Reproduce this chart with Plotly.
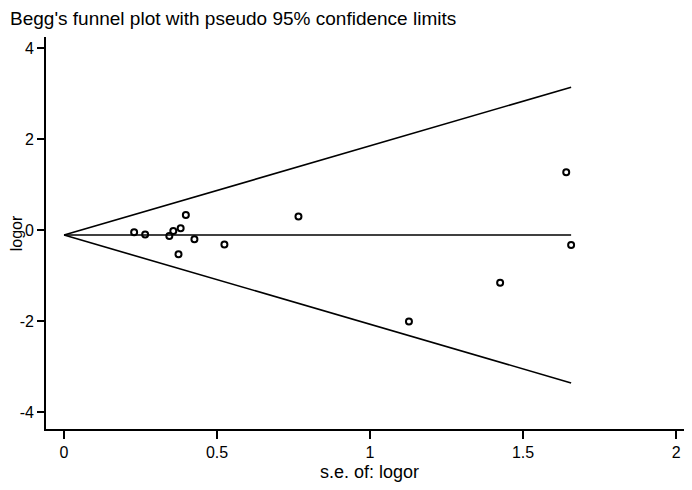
import plotly.graph_objects as go

# study standard errors and log odds ratios
se = [0.229, 0.265, 0.344, 0.357, 0.381, 0.398, 0.426, 0.374, 0.524,
      0.766, 1.127, 1.425, 1.641, 1.657]
logor = [-0.05, -0.10, -0.13, -0.02, 0.04, 0.33, -0.20, -0.53, -0.32,
         0.30, -2.01, -1.16, 1.27, -0.33]
pooled = -0.11

x_ticks = [0, 0.5, 1, 1.5, 2]
y_ticks = [-4, -2, 0, 2, 4]

FONT = "Liberation Sans, Arial, sans-serif"

se_line = [0, max(se)]
upper = [pooled + 1.96 * s for s in se_line]
lower = [pooled - 1.96 * s for s in se_line]
center = [pooled for s in se_line]

fig = go.Figure()
for yy in (upper, lower, center):
    fig.add_trace(go.Scatter(x=se_line, y=yy, mode="lines",
                             line=dict(color="black", width=1.6),
                             hoverinfo="skip", showlegend=False))

fig.add_trace(go.Scatter(
    x=se, y=logor, mode="markers",
    marker=dict(symbol="circle-open", size=6, color="black",
                line=dict(width=2, color="black")),
    showlegend=False,
))

# the page has an 8px body margin, so the figure is 8px smaller each way
fig.update_layout(
    width=684, height=482,
    margin=dict(l=38, r=0, t=29, b=61),
    plot_bgcolor="white", paper_bgcolor="white",
    font=dict(family=FONT, size=16, color="black"),
    title=dict(text="Begg's funnel plot with pseudo 95% confidence limits",
               x=0.003, xanchor="left", y=0.979, yanchor="middle",
               font=dict(family=FONT, size=19, color="black")),
)
fig.update_xaxes(
    range=[-0.059, 2.052], tickvals=x_ticks, ticktext=["0", "0.5", "1", "1.5", "2"],
    showgrid=False, zeroline=False, showline=True, linecolor="black", linewidth=1.6,
    ticks="outside", ticklen=8, tickwidth=1.6, tickcolor="black",
)
fig.update_yaxes(
    range=[-4.37, 4.24], tickvals=y_ticks, ticktext=["-4", "-2", "0", "2", "4"],
    showgrid=False, zeroline=False, showline=True, linecolor="black", linewidth=1.6,
    ticks="outside", ticklen=7, tickwidth=1.6, tickcolor="black",
)

# axis titles
fig.add_annotation(text="s.e. of: logor", xref="paper", yref="paper",
                   x=0.5, y=-0.11, yanchor="middle", showarrow=False,
                   font=dict(family=FONT, size=18))
fig.add_annotation(text="logor", xref="paper", yref="paper",
                   x=-0.046, y=0.5, xanchor="center", yanchor="middle",
                   textangle=-90, showarrow=False,
                   font=dict(family=FONT, size=16))

fig.write_html("out.html")
